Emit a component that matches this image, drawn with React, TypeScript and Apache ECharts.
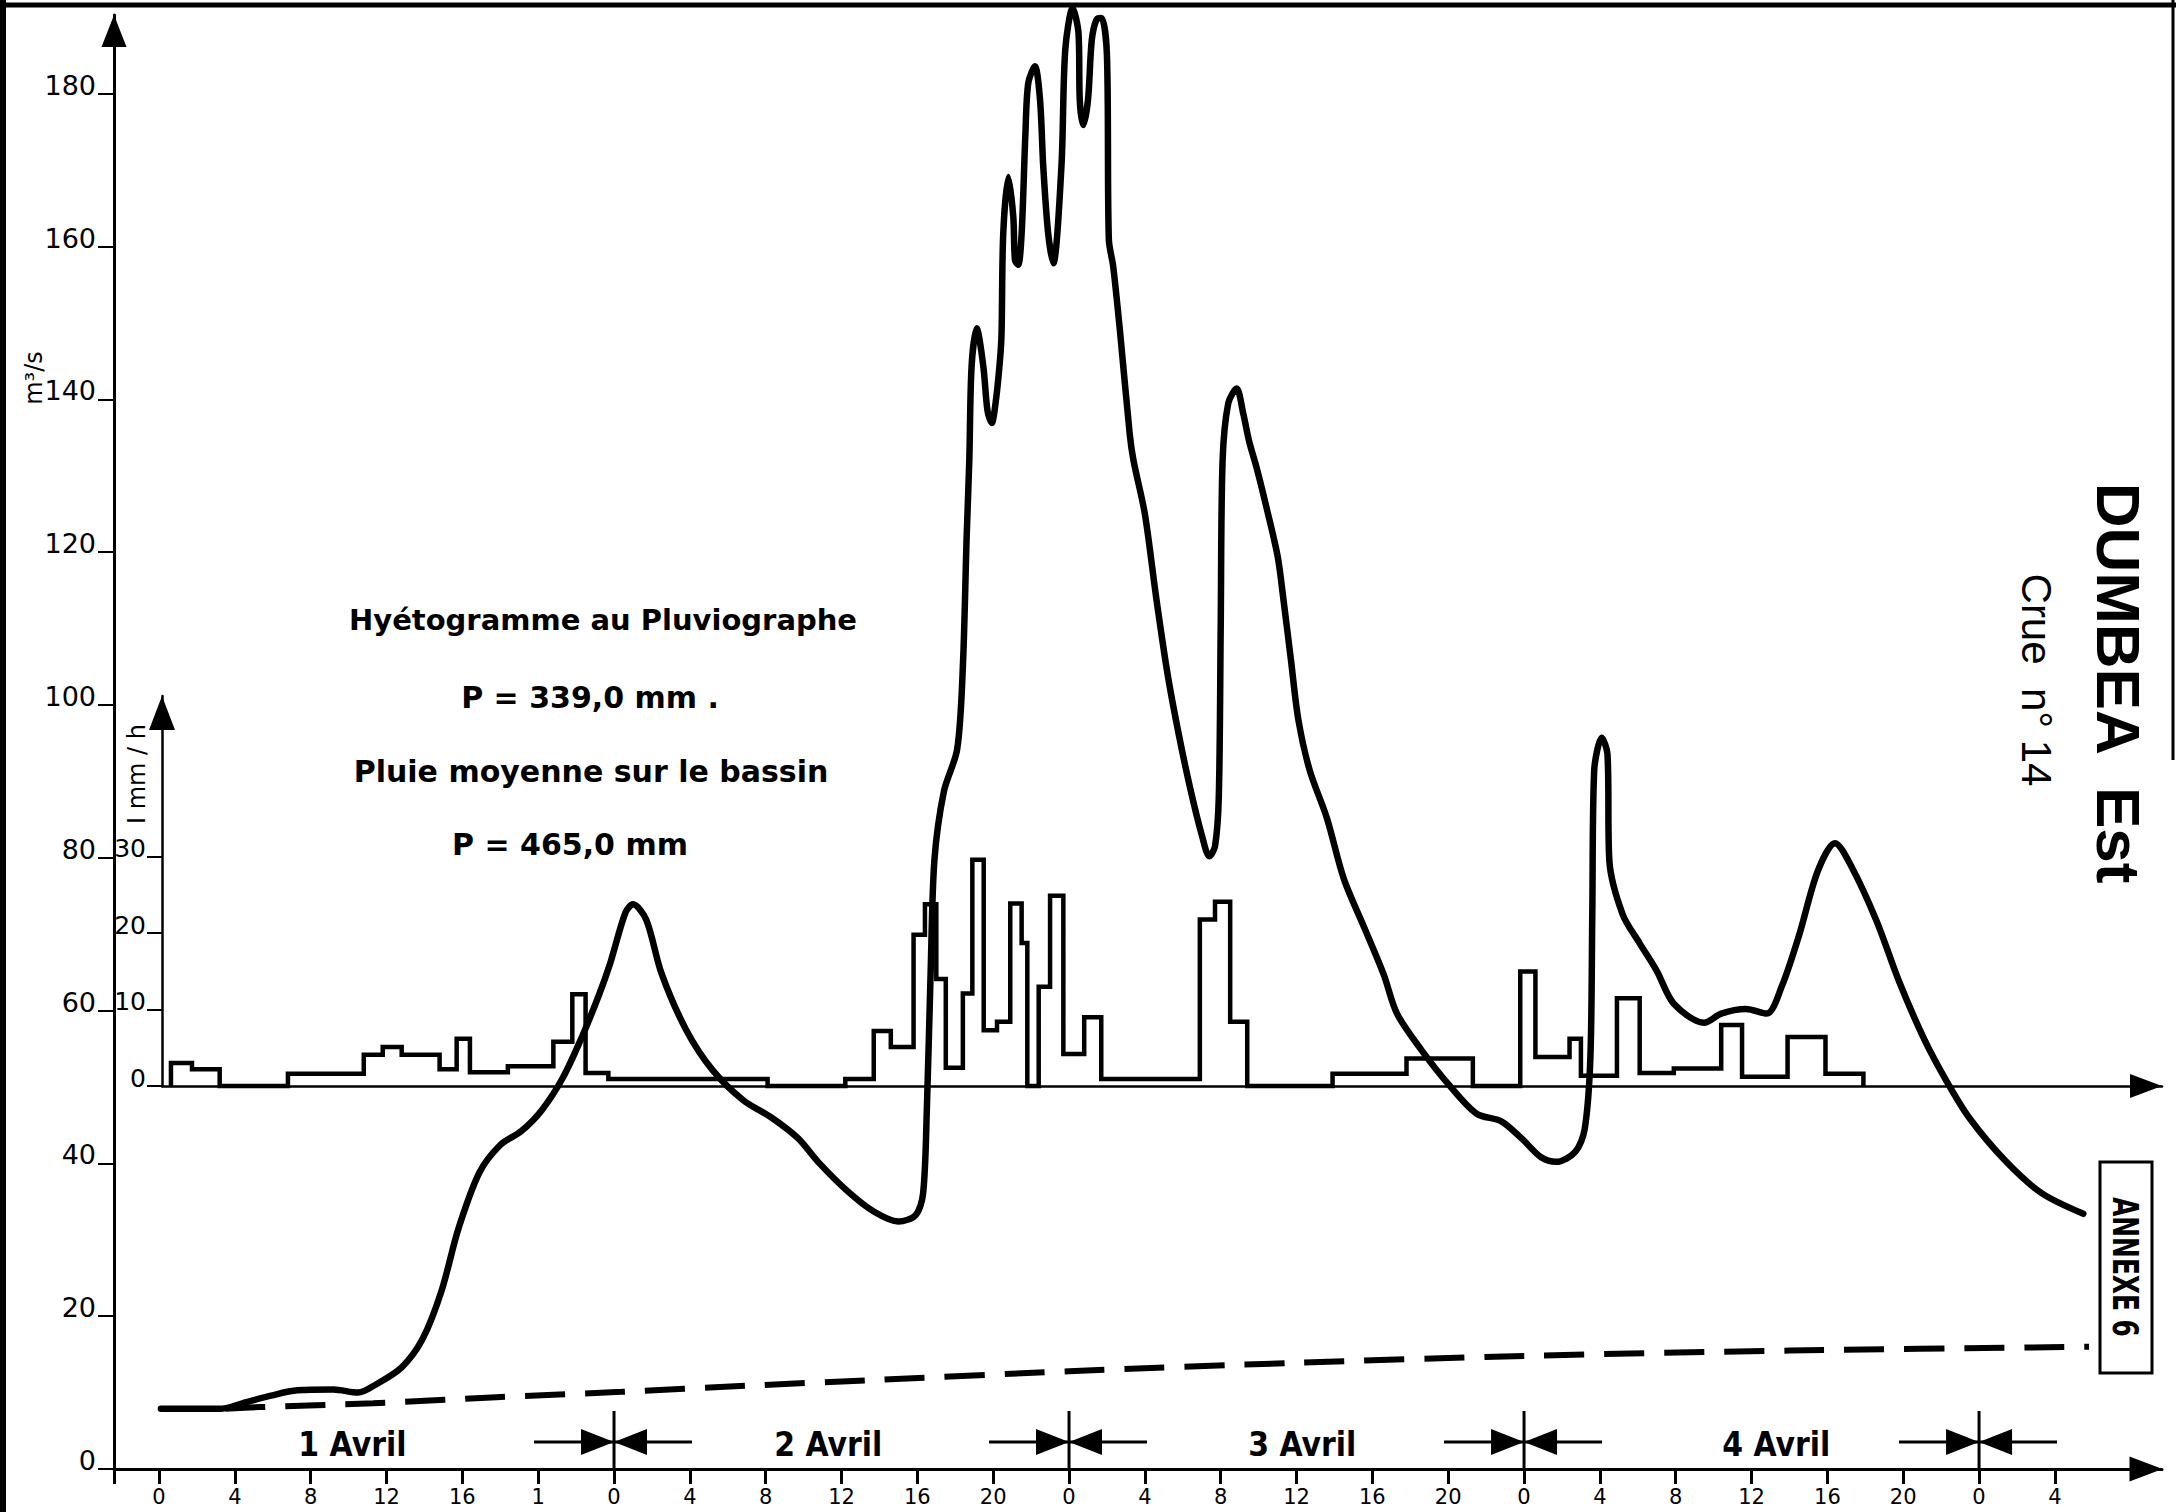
import React, { useEffect, useRef } from "react";
import * as echarts from "echarts";

// ---------------- data ----------------
const HOUR_TICKS = [0, 4, 8, 12, 16, 20, 24, 28, 32, 36, 40, 44, 48, 52, 56, 60, 64, 68, 72, 76, 80, 84, 88, 92, 96, 100];
const HOUR_LABELS = ["0", "4", "8", "12", "16", "1", "0", "4", "8", "12", "16", "20", "0", "4", "8", "12", "16", "20", "0", "4", "8", "12", "16", "20", "0", "4"];
const Q_TICKS = [0, 20, 40, 60, 80, 100, 120, 140, 160, 180];
const RAIN_TICKS = [0, 10, 20, 30];
const DAY_BOUNDARIES = [24, 48, 72, 96];
const DAY_LABELS = ["1 Avril", "2 Avril", "3 Avril", "4 Avril"];
const DAY_LABEL_TIME = [10.2, 35.3, 60.3, 85.3];

// hydrograph (hours since 1 Avril 0h, m3/s)
const Q_TIME = [0.1, 3.3, 4.4, 5.9, 7.3, 9.2, 10.5, 11.4, 12.8, 13.9, 14.9, 15.8, 16.9, 18.0, 19.1, 20.2, 21.3, 22.3, 23.2, 23.8, 24.6, 25.0, 25.7, 26.5, 27.8, 29.2, 30.8, 32.3, 33.7, 34.8, 36.3, 37.7, 39.0, 39.9, 40.3, 40.5, 40.7, 40.9, 41.4, 42.1, 42.4, 42.6, 42.74, 42.86, 43.13, 43.48, 43.7, 43.92, 44.15, 44.36, 44.44, 44.53, 44.8, 45.06, 45.15, 45.32, 45.5, 45.7, 45.85, 46.2, 46.47, 46.64, 46.9, 47.17, 47.6, 47.8, 48.19, 48.5, 48.57, 48.75, 49.0, 49.2, 49.45, 49.72, 50.0, 50.1, 50.33, 50.7, 51.2, 51.4, 52.0, 52.6, 53.2, 53.8, 54.4, 55.0, 55.4, 55.7, 55.9, 56.0, 56.1, 56.4, 56.84, 57.2, 57.5, 57.9, 58.4, 59.0, 59.3, 59.7, 60.1, 60.7, 61.6, 62.5, 63.6, 64.6, 65.3, 66.6, 68.1, 69.5, 70.8, 71.9, 72.9, 73.7, 74.7, 75.2, 75.5, 75.6, 75.7, 76.1, 76.4, 76.5, 77.2, 78.1, 79.0, 79.9, 81.5, 82.4, 83.7, 84.8, 85.6, 86.5, 87.5, 88.4, 89.3, 90.6, 91.8, 93.1, 94.3, 95.5, 97.4, 99.3, 101.5];
const Q_VALUE = [7.9, 7.9, 8.6, 9.6, 10.3, 10.4, 10.0, 11.0, 13.3, 17.0, 23.3, 31.5, 38.8, 42.4, 44.2, 47.0, 51.2, 56.5, 62.0, 66.2, 72.8, 73.9, 71.9, 64.9, 57.5, 52.2, 48.3, 46.0, 43.3, 40.1, 36.4, 33.7, 32.4, 33.2, 36.0, 47.0, 65.0, 79.7, 88.7, 94.2, 105.0, 122.0, 132.0, 144.3, 149.3, 144.3, 138.5, 136.9, 140.0, 145.2, 148.6, 161.7, 169.1, 163.9, 158.2, 157.6, 161.7, 174.8, 181.4, 183.6, 179.2, 170.5, 161.7, 157.8, 170.5, 185.7, 191.2, 187.9, 179.0, 175.9, 179.2, 187.0, 189.7, 189.9, 185.0, 160.9, 157.4, 148.6, 135.5, 132.0, 125.0, 114.0, 104.0, 96.0, 89.0, 83.0, 80.2, 81.5, 88.0, 110.0, 132.0, 139.5, 141.4, 138.0, 134.5, 131.0, 126.0, 119.5, 114.0, 106.0, 98.0, 91.4, 85.2, 77.2, 70.7, 64.7, 59.6, 54.8, 50.1, 46.5, 45.5, 43.2, 40.8, 40.2, 41.5, 44.5, 53.9, 72.6, 91.4, 95.7, 93.6, 79.6, 72.6, 68.8, 65.2, 60.9, 58.4, 59.6, 60.2, 59.6, 63.2, 69.8, 78.3, 81.9, 78.7, 71.7, 63.7, 56.3, 50.7, 45.9, 40.3, 36.1, 33.4];

// base flow (dashed)
const BASE_TIME = [3.5, 5.3, 11.3, 17.8, 24.4, 31.0, 37.3, 48.0, 60.0, 72.0, 86.0, 101.8];
const BASE_VALUE = [7.9, 8.1, 8.6, 9.4, 10.1, 10.9, 11.6, 12.8, 13.9, 14.8, 15.5, 16.0];

// hyetogram (mm/h)
const RAIN_START = [0.63, 1.74, 6.8, 10.8, 11.8, 12.8, 14.8, 15.7, 16.4, 18.4, 20.8, 21.8, 22.5, 23.7, 36.2, 37.7, 38.6, 39.8, 40.4, 41.0, 41.5, 42.4, 42.9, 43.5, 44.2, 44.9, 45.5, 46.4, 47.0, 47.7, 48.8, 49.7, 54.9, 55.7, 56.5, 61.9, 65.8, 71.8, 72.6, 74.4, 75.0, 76.9, 78.1, 79.9, 82.4, 83.5, 85.9, 87.9];
const RAIN_END = [1.74, 3.2, 10.8, 11.8, 12.8, 14.8, 15.7, 16.4, 18.4, 20.8, 21.8, 22.5, 23.7, 32.1, 37.7, 38.6, 39.8, 40.4, 41.0, 41.5, 42.4, 42.9, 43.5, 44.2, 44.9, 45.5, 45.8, 47.0, 47.7, 48.8, 49.7, 54.9, 55.7, 56.5, 57.4, 65.8, 69.3, 72.6, 74.4, 75.0, 76.9, 78.1, 79.9, 82.4, 83.5, 85.9, 87.9, 89.9];
const RAIN_RATE = [3.0, 2.2, 1.6, 4.1, 5.1, 4.1, 2.2, 6.2, 1.8, 2.6, 5.8, 12.0, 1.7, 0.9, 0.9, 7.2, 5.1, 19.8, 23.8, 14.0, 2.4, 12.1, 29.6, 7.3, 8.4, 23.9, 18.7, 13.0, 24.9, 4.2, 9.0, 0.9, 21.8, 24.1, 8.4, 1.6, 3.6, 15.0, 3.8, 6.2, 1.35, 11.5, 1.7, 2.3, 8.0, 1.2, 6.4, 1.6];

// ---------------- layout ----------------
const W = 2176;
const H = 1512;
const AXIS_X = 114;
const AXIS_Y = 1469;
const RIGHT_END = 2162;
const TOP_END = 15;
const X_MIN = -2.374;
const X_MAX = 105.65;
const Y_MAX = 190.3;
const RAIN_AXIS_X = 162;
const RAIN_ZERO_Y = 1086;
const RAIN_TOP = 696;
const PX_PER_HOUR = (RIGHT_END - AXIS_X) / (X_MAX - X_MIN);
const PX_PER_UNIT = (AXIS_Y - TOP_END) / Y_MAX;
const X2_MIN = X_MIN + (RAIN_AXIS_X - AXIS_X) / PX_PER_HOUR;
const Y2_MAX = (RAIN_ZERO_Y - RAIN_TOP) / PX_PER_UNIT;
const DAY_LABEL_LEVEL = 3.2;

const FONT = "DejaVu Sans";
const BLACK = "#000";

function buildOption() {
  const qData = Q_TIME.map((t, i) => [t, Q_VALUE[i]]);
  const baseData = BASE_TIME.map((t, i) => [t, BASE_VALUE[i]]);
  const rainPath: number[][] = [];
  const n = RAIN_START.length;
  for (let i = 0; i < n; i++) {
    const s = RAIN_START[i];
    const e = RAIN_END[i];
    const v = RAIN_RATE[i];
    if (i === 0 || RAIN_END[i - 1] !== s) rainPath.push([s, 0]);
    rainPath.push([s, v], [e, v]);
    if (i === n - 1 || RAIN_START[i + 1] !== e) rainPath.push([e, 0]);
  }

  const axisLineStyle = { color: BLACK, width: 3 };
  const labelBase = { color: BLACK, fontFamily: FONT };

  return {
    animation: false,
    backgroundColor: "#fff",
    textStyle: { fontFamily: FONT, color: BLACK },
    grid: [
      { left: AXIS_X, right: W - RIGHT_END, top: TOP_END, bottom: H - AXIS_Y, containLabel: false },
      { left: RAIN_AXIS_X, right: W - RIGHT_END, top: RAIN_TOP, bottom: H - RAIN_ZERO_Y, containLabel: false },
    ],
    xAxis: [
      {
        type: "value",
        gridIndex: 0,
        min: X_MIN,
        max: X_MAX,
        splitLine: { show: false },
        axisLine: {
          show: true,
          onZero: false,
          symbol: ["none", "triangle"],
          symbolSize: [25, 33],
          symbolOffset: [0, -16],
          lineStyle: axisLineStyle,
        },
        axisTick: {
          show: true,
          inside: false,
          length: 15,
          customValues: [X_MIN, ...HOUR_TICKS],
          lineStyle: { color: BLACK, width: 3 },
        },
        axisLabel: {
          ...labelBase,
          customValues: HOUR_TICKS,
          fontSize: 21,
          lineHeight: 21,
          margin: 17,
          formatter: (v: number) => {
            const i = HOUR_TICKS.indexOf(Math.round(v));
            return i >= 0 ? HOUR_LABELS[i] : "";
          },
        },
      },
      {
        type: "value",
        gridIndex: 1,
        min: X2_MIN,
        max: X_MAX,
        splitLine: { show: false },
        axisLine: {
          show: true,
          onZero: false,
          symbol: ["none", "triangle"],
          symbolSize: [24, 32],
          symbolOffset: [0, -16],
          lineStyle: { color: BLACK, width: 2.5 },
        },
        axisTick: { show: false },
        axisLabel: { show: false },
      },
    ],
    yAxis: [
      {
        type: "value",
        gridIndex: 0,
        min: 0,
        max: Y_MAX,
        splitLine: { show: false },
        axisLine: {
          show: true,
          onZero: false,
          symbol: ["none", "triangle"],
          symbolSize: [25, 32],
          symbolOffset: [0, -16],
          lineStyle: axisLineStyle,
        },
        axisTick: {
          show: true,
          length: 16,
          customValues: Q_TICKS,
          lineStyle: { color: BLACK, width: 2 },
        },
        axisLabel: {
          ...labelBase,
          customValues: Q_TICKS,
          fontSize: 27,
          margin: 18,
          verticalAlign: "bottom",
          lineHeight: 17,
        },
      },
      {
        type: "value",
        gridIndex: 1,
        min: 0,
        max: Y2_MAX,
        splitLine: { show: false },
        axisLine: {
          show: true,
          onZero: false,
          symbol: ["none", "triangle"],
          symbolSize: [26, 34],
          symbolOffset: [0, -17],
          lineStyle: { color: BLACK, width: 2.5 },
        },
        axisTick: {
          show: true,
          length: 15,
          customValues: RAIN_TICKS,
          lineStyle: { color: BLACK, width: 2 },
        },
        axisLabel: {
          ...labelBase,
          customValues: RAIN_TICKS,
          fontSize: 25,
          margin: 16,
          verticalAlign: "bottom",
          lineHeight: 16,
        },
      },
    ],
    series: [
      {
        name: "Hyétogramme",
        type: "line",
        xAxisIndex: 1,
        yAxisIndex: 1,
        data: rainPath,
        symbol: "none",
        clip: false,
        z: 3,
        lineStyle: { color: BLACK, width: 4.5, join: "miter" },
      },
      {
        name: "Débit de base",
        type: "line",
        xAxisIndex: 0,
        yAxisIndex: 0,
        data: baseData,
        symbol: "none",
        smooth: 0.3,
        z: 3,
        lineStyle: { color: BLACK, width: 6, type: [40, 20] },
      },
      {
        name: "Débit",
        type: "line",
        xAxisIndex: 0,
        yAxisIndex: 0,
        data: qData,
        symbol: "none",
        smooth: 0.3,
        clip: false,
        z: 4,
        lineStyle: { color: BLACK, width: 6.5, cap: "round", join: "round" },
      },
      {
        name: "Jours",
        type: "custom",
        xAxisIndex: 0,
        yAxisIndex: 0,
        silent: true,
        clip: false,
        z: 5,
        data: DAY_BOUNDARIES.map((t) => [t, 0]),
        renderItem: (_params: any, api: any) => {
          const p = api.coord([api.value(0), 0]);
          const x = p[0];
          const y = p[1];
          const my = y - 27;
          return {
            type: "group",
            children: [
              { type: "line", shape: { x1: x, y1: y - 58, x2: x, y2: y }, style: { stroke: BLACK, lineWidth: 3 } },
              { type: "line", shape: { x1: x - 80, y1: my, x2: x + 78, y2: my }, style: { stroke: BLACK, lineWidth: 3 } },
              { type: "polygon", shape: { points: [[x - 33, my - 13], [x, my], [x - 33, my + 13]] }, style: { fill: BLACK } },
              { type: "polygon", shape: { points: [[x + 33, my - 13], [x, my], [x + 33, my + 13]] }, style: { fill: BLACK } },
            ],
          };
        },
      },
      {
        name: "Dates",
        type: "custom",
        xAxisIndex: 0,
        yAxisIndex: 0,
        silent: true,
        clip: false,
        z: 5,
        data: DAY_LABEL_TIME.map((t) => [t, DAY_LABEL_LEVEL]),
        renderItem: (params: any, api: any) => {
          const p = api.coord([api.value(0), api.value(1)]);
          return {
            type: "text",
            x: p[0],
            y: p[1],
            scaleX: 0.88,
            style: {
              text: DAY_LABELS[params.dataIndex],
              fontSize: 34,
              fontWeight: "bold",
              fontFamily: FONT,
              fill: BLACK,
              align: "center",
              verticalAlign: "middle",
            },
          };
        },
      },
    ],
    graphic: [
      { type: "line", z: 10, shape: { x1: 0, y1: 5, x2: W, y2: 5 }, style: { stroke: BLACK, lineWidth: 5 } },
      { type: "line", z: 10, shape: { x1: 3, y1: 0, x2: 3, y2: H }, style: { stroke: BLACK, lineWidth: 6 } },
      { type: "line", z: 10, shape: { x1: 2173, y1: 0, x2: 2173, y2: 760 }, style: { stroke: BLACK, lineWidth: 3 } },
      {
        type: "text", z: 10, x: 603, y: 620,
        style: { text: "Hyétogramme au Pluviographe", fontSize: 29, fontWeight: "bold", fontFamily: FONT, fill: BLACK, align: "center", verticalAlign: "middle" },
      },
      {
        type: "text", z: 10, x: 590, y: 697,
        style: { text: "P = 339,0 mm .", fontSize: 30, fontWeight: "bold", fontFamily: FONT, fill: BLACK, align: "center", verticalAlign: "middle" },
      },
      {
        type: "text", z: 10, x: 591, y: 771,
        style: { text: "Pluie moyenne sur le bassin", fontSize: 30, fontWeight: "bold", fontFamily: FONT, fill: BLACK, align: "center", verticalAlign: "middle" },
      },
      {
        type: "text", z: 10, x: 570, y: 844,
        style: { text: "P = 465,0 mm", fontSize: 30, fontWeight: "bold", fontFamily: FONT, fill: BLACK, align: "center", verticalAlign: "middle" },
      },
      {
        type: "text", z: 10, x: 2118, y: 683, rotation: -Math.PI / 2,
        style: { text: "DUMBEA  Est", fontSize: 62, fontWeight: "bold", fontFamily: "Liberation Sans", fill: BLACK, align: "center", verticalAlign: "middle" },
      },
      {
        type: "text", z: 10, x: 2036, y: 680, rotation: -Math.PI / 2,
        style: { text: "Crue  n° 14", fontSize: 42, fontFamily: "Liberation Sans", fill: BLACK, align: "center", verticalAlign: "middle" },
      },
      {
        type: "rect", z: 10,
        shape: { x: 2100, y: 1162, width: 52, height: 211 },
        style: { fill: "#fff", stroke: BLACK, lineWidth: 3 },
      },
      {
        type: "text", z: 11, x: 2126, y: 1267, rotation: -Math.PI / 2, scaleX: 0.69,
        style: { text: "ANNEXE 6", fontSize: 36, fontWeight: "bold", fontFamily: FONT, fill: BLACK, align: "center", verticalAlign: "middle" },
      },
      {
        type: "text", z: 10, x: 137, y: 774, rotation: Math.PI / 2,
        style: { text: "I mm / h", fontSize: 24, fontFamily: FONT, fill: BLACK, align: "center", verticalAlign: "middle" },
      },
      {
        type: "text", z: 10, x: 34, y: 378, rotation: Math.PI / 2,
        style: { text: "m³/s", fontSize: 24, fontFamily: FONT, fill: BLACK, align: "center", verticalAlign: "middle" },
      },
    ],
  };
}

export default function App() {
  const ref = useRef<HTMLDivElement>(null);
  useEffect(() => {
    if (!ref.current) return;
    const chart = echarts.init(ref.current, null, { renderer: "svg", width: W, height: H });
    chart.setOption(buildOption() as any);
    return () => {
      chart.dispose();
    };
  }, []);
  return (
    <div
      ref={ref}
      style={{ position: "fixed", left: 0, top: 0, width: W, height: H, background: "#fff", overflow: "hidden" }}
    />
  );
}
